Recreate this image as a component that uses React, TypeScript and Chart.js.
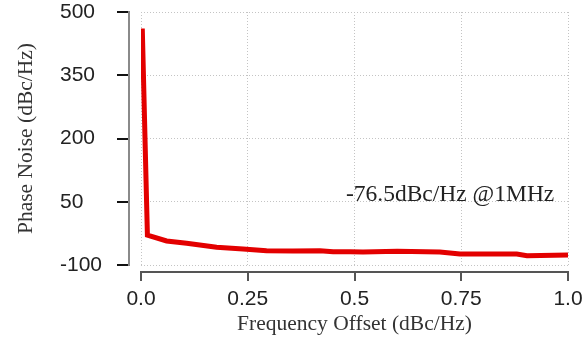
import React, { useEffect, useRef } from "react";
import { Chart, registerables } from "chart.js";

Chart.register(...registerables);

// ---- data ----
const freqOffset = [0.003, 0.015, 0.06, 0.107, 0.177, 0.239, 0.294, 0.356, 0.419, 0.45, 0.49, 0.52, 0.6, 0.7, 0.747, 0.88, 0.904, 1.0];
const phaseNoise = [461, -29, -43, -48.5, -58, -62, -66, -67, -66, -68.5, -68.5, -69, -67.5, -69, -74, -74, -78, -76.5];
const xTickValues = [0, 0.25, 0.5, 0.75, 1];
const xTickLabels = ["0.0", "0.25", "0.5", "0.75", "1.0"];
const yTickValues = [-100, 50, 200, 350, 500];
const yTickLabels = ["-100", "50", "200", "350", "500"];
const xTitle = "Frequency Offset (dBc/Hz)";
const yTitle = "Phase Noise (dBc/Hz)";
const annotationText = "-76.5dBc/Hz @1MHz";
const annotationAt = { x: 0.724, y: 67 };

const SANS = "'Liberation Sans', Arial, sans-serif";
const SERIF = "'Liberation Serif', 'Times New Roman', serif";

const detachedAxes = {
  id: "detachedAxes",
  afterDraw(chart: any) {
    const { ctx, chartArea, scales } = chart;
    const x = scales.x;
    const y = scales.y;
    ctx.save();
    // y axis (detached to the left)
    const yAxisX = chartArea.left - 12;
    ctx.lineWidth = 2;
    ctx.strokeStyle = "#8a8a8a";
    ctx.beginPath();
    ctx.moveTo(yAxisX, y.getPixelForValue(yTickValues[yTickValues.length - 1]) - 1);
    ctx.lineTo(yAxisX, y.getPixelForValue(yTickValues[0]) + 1);
    ctx.stroke();
    ctx.strokeStyle = "#111";
    ctx.lineWidth = 2;
    yTickValues.forEach((v) => {
      const py = Math.round(y.getPixelForValue(v));
      ctx.beginPath();
      ctx.moveTo(yAxisX - 12, py);
      ctx.lineTo(yAxisX - 1, py);
      ctx.stroke();
    });
    // x axis (detached below)
    const xAxisY = chartArea.bottom + 7;
    ctx.strokeStyle = "#555";
    ctx.lineWidth = 2;
    ctx.beginPath();
    ctx.moveTo(x.getPixelForValue(xTickValues[0]) - 1, xAxisY);
    ctx.lineTo(x.getPixelForValue(xTickValues[xTickValues.length - 1]) + 1, xAxisY);
    ctx.stroke();
    xTickValues.forEach((v) => {
      const px = Math.round(x.getPixelForValue(v));
      ctx.beginPath();
      ctx.moveTo(px, xAxisY);
      ctx.lineTo(px, xAxisY + 9);
      ctx.stroke();
    });
    // annotation
    ctx.fillStyle = "#222";
    ctx.font = `23.5px ${SERIF}`;
    ctx.textAlign = "center";
    ctx.textBaseline = "middle";
    ctx.fillText(annotationText, x.getPixelForValue(annotationAt.x), y.getPixelForValue(annotationAt.y));
    ctx.restore();
  },
};

export default function App() {
  const canvasRef = useRef<HTMLCanvasElement | null>(null);

  useEffect(() => {
    if (!canvasRef.current) return;
    const chart = new Chart(canvasRef.current, {
      type: "line",
      data: {
        datasets: [
          {
            data: freqOffset.map((f, i) => ({ x: f, y: phaseNoise[i] })),
            borderColor: "#e30000",
            borderWidth: 5,
            pointRadius: 0,
            tension: 0,
            fill: false,
          },
        ],
      },
      options: {
        animation: false,
        responsive: false,
        layout: { padding: { top: 12, right: 19, left: 0, bottom: 0 } },
        plugins: { legend: { display: false }, tooltip: { enabled: false } },
        scales: {
          x: {
            type: "linear",
            min: 0,
            max: 1,
            afterBuildTicks: (s: any) => {
              s.ticks = xTickValues.map((v) => ({ value: v }));
            },
            afterFit: (s: any) => {
              s.height = 72;
              s.paddingLeft = 0;
              s.paddingRight = 0;
            },
            grid: { color: "#c4c4c4", lineWidth: 1, drawTicks: true, tickLength: 15, tickColor: "rgba(0,0,0,0)" },
            border: { display: false, dash: [1, 2] },
            ticks: {
              padding: 7,
              color: "#222",
              font: { family: SANS, size: 21 },
              maxRotation: 0,
              callback: (v: any) => {
                const i = xTickValues.indexOf(Number(v));
                return i >= 0 ? xTickLabels[i] : "";
              },
            },
            title: {
              display: true,
              text: xTitle,
              color: "#333",
              font: { family: SERIF, size: 21.5 },
              padding: { top: 0, bottom: 0 },
            },
          },
          y: {
            type: "linear",
            position: "left",
            weight: 0,
            min: -100,
            max: 500,
            afterBuildTicks: (s: any) => {
              s.ticks = yTickValues.map((v) => ({ value: v }));
            },
            afterFit: (s: any) => {
              s.width = 81;
              s.paddingTop = 0;
              s.paddingBottom = 0;
            },
            grid: { color: "#c4c4c4", lineWidth: 1, drawTicks: false },
            border: { display: false, dash: [1, 2] },
            ticks: {
              crossAlign: "far",
              color: "#222",
              font: { family: SANS, size: 21 },
              callback: (v: any) => {
                const i = yTickValues.indexOf(Number(v));
                return i >= 0 ? yTickLabels[i] : "";
              },
            },
          },
          yTitle: {
            type: "linear",
            position: "left",
            weight: 1,
            min: -100,
            max: 500,
            afterFit: (s: any) => {
              s.width = 60;
              s.paddingTop = 0;
              s.paddingBottom = 0;
            },
            grid: { display: false, drawTicks: false },
            border: { display: false },
            ticks: { display: false },
            title: {
              display: true,
              text: yTitle,
              color: "#333",
              font: { family: SERIF, size: 21.5 },
              padding: { top: 13, bottom: 0 },
            },
          },
        },
      },
      plugins: [detachedAxes],
    } as any);
    return () => chart.destroy();
  }, []);

  return (
    <div style={{ position: "fixed", left: 0, top: 0, width: 587, height: 337, background: "#fff" }}>
      <canvas ref={canvasRef} width={587} height={337} />
    </div>
  );
}
